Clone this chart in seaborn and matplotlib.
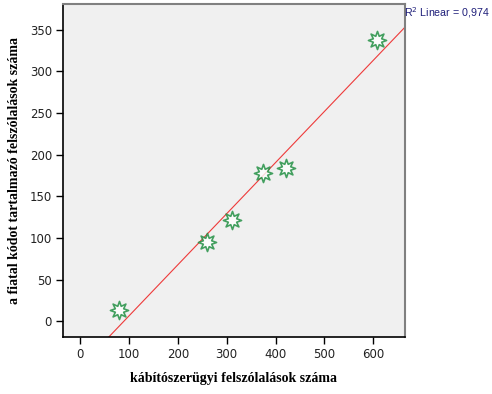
import numpy as np
import pandas as pd
import seaborn as sns
from matplotlib import pyplot as plt

# data
drug_speeches = [80, 260, 311, 374, 421, 607]
youth_speeches = [14, 95, 121, 178, 184, 338]
r2_label = 'R$^2$ Linear = 0,974'

df = pd.DataFrame({'x': drug_speeches, 'y': youth_speeches})

sns.set_style('white')
fig = plt.figure(figsize=(4.92, 3.94), dpi=100)
ax = fig.add_axes([63 / 492, 1 - 337 / 394, (405 - 63) / 492, (337 - 4) / 394])
ax.set_facecolor('#f0f0f0')

ax.set_xlim(-35, 665)
ax.set_ylim(-19, 381)

sns.regplot(data=df, x='x', y='y', ax=ax, ci=None, truncate=False, marker=(8, 1, 0),
            scatter_kws=dict(s=170, facecolors='white', edgecolors='#178a3a',
                             linewidths=1.2, zorder=3),
            line_kws=dict(color='#ee3a3a', lw=0.8, zorder=2))
ax.set_xlim(-35, 665)
ax.set_ylim(-19, 381)

ax.set_xticks(range(0, 601, 100))
ax.set_yticks(range(0, 351, 50))
ax.tick_params(axis='both', direction='out', length=5, width=1, colors='black',
               labelsize=8.5, pad=3, bottom=True, left=True)
for lab in ax.get_xticklabels() + ax.get_yticklabels():
    lab.set_family('DejaVu Sans')
    lab.set_color('#222222')

for side in ['left', 'bottom']:
    ax.spines[side].set_color('black')
    ax.spines[side].set_linewidth(1.2)
for side in ['top', 'right']:
    ax.spines[side].set_color('#808080')
    ax.spines[side].set_linewidth(1.5)

ax.set_xlabel('kábítószerügyi felszólalások száma', family='Liberation Serif',
              fontweight='bold', fontsize=10, labelpad=8, color='black')
ax.set_ylabel('a fiatal kódot tartalmazó felszólalások száma', family='Liberation Serif',
              fontweight='bold', fontsize=10, labelpad=6, color='black')

fig.text(404 / 492, 1 - 13 / 394, r2_label, color='#1f1f7a', fontsize=7.7,
         family='Liberation Sans', va='center', ha='left')

plt.savefig('out.png', dpi=100)
plt.close()
